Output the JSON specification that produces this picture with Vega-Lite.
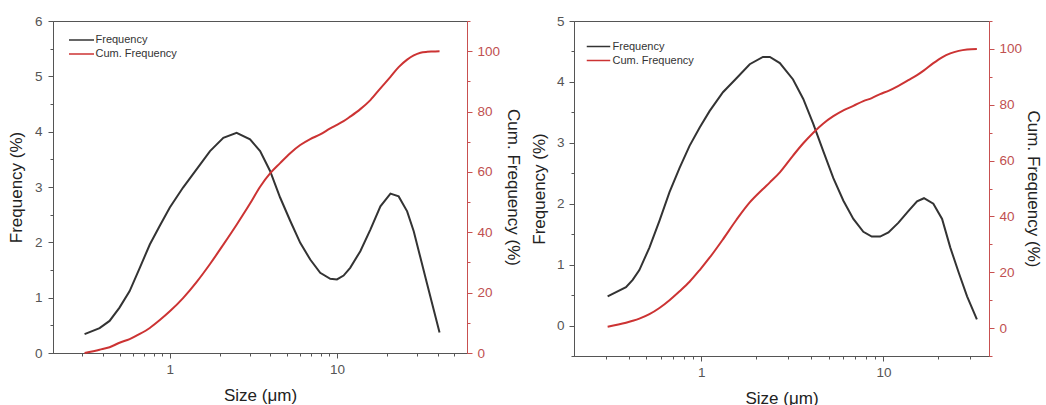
{
  "$schema": "https://vega.github.io/schema/vega-lite/v6.json",
  "padding": {"left": 6, "top": 13, "right": 0, "bottom": 0},
  "config": {
    "font": "Liberation Sans",
    "view": {"stroke": "#555555", "strokeWidth": 1},
    "axis": {"labelFont": "Liberation Sans", "titleFont": "Liberation Sans", "labelFontSize": 13.5, "titleFontSize": 17, "titleFontWeight": "normal", "labelColor": "#555555", "titleColor": "#222222", "domainColor": "#555555", "tickColor": "#555555", "grid": false, "labelOverlap": false},
    "legend": {"orient": "none", "title": null, "symbolStrokeWidth": 1.5, "labelFontSize": 11, "labelFont": "Liberation Sans", "labelColor": "#333333", "padding": 0, "symbolSize": 100}
  },
  "datasets": {
    "left": [
      {"size": 0.309, "freq": 0.34, "cum": 0.0},
      {"size": 0.38, "freq": 0.45, "cum": 1.1},
      {"size": 0.436, "freq": 0.58, "cum": 1.9},
      {"size": 0.5, "freq": 0.82, "cum": 3.4},
      {"size": 0.575, "freq": 1.12, "cum": 4.6},
      {"size": 0.661, "freq": 1.54, "cum": 6.3},
      {"size": 0.759, "freq": 1.96, "cum": 8.3},
      {"size": 0.871, "freq": 2.3, "cum": 10.9},
      {"size": 1.0, "freq": 2.63, "cum": 13.8},
      {"size": 1.2, "freq": 2.99, "cum": 18.2},
      {"size": 1.445, "freq": 3.32, "cum": 23.5},
      {"size": 1.74, "freq": 3.65, "cum": 29.5},
      {"size": 2.09, "freq": 3.89, "cum": 35.9},
      {"size": 2.51, "freq": 3.98, "cum": 42.5},
      {"size": 3.02, "freq": 3.86, "cum": 49.5},
      {"size": 3.47, "freq": 3.65, "cum": 55.1},
      {"size": 3.98, "freq": 3.29, "cum": 59.5},
      {"size": 4.57, "freq": 2.81, "cum": 62.9},
      {"size": 5.25, "freq": 2.39, "cum": 66.2},
      {"size": 6.03, "freq": 1.99, "cum": 68.9},
      {"size": 6.92, "freq": 1.69, "cum": 70.9},
      {"size": 7.94, "freq": 1.45, "cum": 72.4},
      {"size": 9.12, "freq": 1.34, "cum": 74.4},
      {"size": 10.0, "freq": 1.33, "cum": 75.6},
      {"size": 10.96, "freq": 1.4, "cum": 76.8},
      {"size": 12.0, "freq": 1.54, "cum": 78.3},
      {"size": 13.8, "freq": 1.84, "cum": 80.8},
      {"size": 15.85, "freq": 2.23, "cum": 83.8},
      {"size": 18.2, "freq": 2.65, "cum": 87.7},
      {"size": 20.9, "freq": 2.88, "cum": 91.5},
      {"size": 23.4, "freq": 2.83, "cum": 94.7},
      {"size": 26.3, "freq": 2.56, "cum": 97.2},
      {"size": 28.8, "freq": 2.2, "cum": 98.6},
      {"size": 31.6, "freq": 1.72, "cum": 99.5},
      {"size": 34.7, "freq": 1.24, "cum": 99.8},
      {"size": 37.2, "freq": 0.88, "cum": 99.9},
      {"size": 41.1, "freq": 0.37, "cum": 100}
    ],
    "right": [
      {"size": 0.306, "freq": 0.48, "cum": 0.5},
      {"size": 0.386, "freq": 0.63, "cum": 1.9},
      {"size": 0.42, "freq": 0.75, "cum": 2.6},
      {"size": 0.457, "freq": 0.91, "cum": 3.4},
      {"size": 0.519, "freq": 1.28, "cum": 5.0},
      {"size": 0.589, "freq": 1.72, "cum": 7.2},
      {"size": 0.669, "freq": 2.19, "cum": 10.0},
      {"size": 0.76, "freq": 2.59, "cum": 13.2},
      {"size": 0.862, "freq": 2.95, "cum": 16.6},
      {"size": 0.98, "freq": 3.25, "cum": 20.8},
      {"size": 1.11, "freq": 3.52, "cum": 25.2},
      {"size": 1.315, "freq": 3.83, "cum": 31.8},
      {"size": 1.56, "freq": 4.06, "cum": 38.8},
      {"size": 1.845, "freq": 4.29, "cum": 45.0},
      {"size": 2.18, "freq": 4.41, "cum": 49.8},
      {"size": 2.38, "freq": 4.41, "cum": 52.2},
      {"size": 2.7, "freq": 4.31, "cum": 55.8},
      {"size": 3.19, "freq": 4.04, "cum": 61.8},
      {"size": 3.63, "freq": 3.72, "cum": 66.2},
      {"size": 4.12, "freq": 3.31, "cum": 70.0},
      {"size": 4.68, "freq": 2.86, "cum": 73.3},
      {"size": 5.31, "freq": 2.42, "cum": 75.9},
      {"size": 6.03, "freq": 2.05, "cum": 78.0},
      {"size": 6.84, "freq": 1.75, "cum": 79.6},
      {"size": 7.76, "freq": 1.54, "cum": 81.3},
      {"size": 8.63, "freq": 1.46, "cum": 82.4},
      {"size": 9.59, "freq": 1.46, "cum": 83.8},
      {"size": 10.66, "freq": 1.53, "cum": 85.0},
      {"size": 12.1, "freq": 1.69, "cum": 86.8},
      {"size": 13.7, "freq": 1.88, "cum": 88.8},
      {"size": 15.3, "freq": 2.04, "cum": 90.6},
      {"size": 16.7, "freq": 2.09, "cum": 92.3},
      {"size": 18.8, "freq": 2.0, "cum": 94.9},
      {"size": 21.0, "freq": 1.75, "cum": 97.0},
      {"size": 23.3, "freq": 1.28, "cum": 98.4},
      {"size": 25.9, "freq": 0.87, "cum": 99.3},
      {"size": 28.8, "freq": 0.48, "cum": 99.8},
      {"size": 32.6, "freq": 0.1, "cum": 100}
    ]
  },
  "spacing": 6,
  "resolve": {"scale": {"color": "independent"}, "legend": {"color": "independent"}},
  "hconcat": [
    {
      "width": 414,
      "height": 332,
      "data": {"name": "left"},
      "layer": [
        {
          "mark": {"type": "line", "strokeWidth": 2, "interpolate": "linear"},
          "encoding": {
            "x": {"field": "size", "type": "quantitative", "scale": {"type": "log", "domain": [0.2, 60], "nice": false},
                  "axis": {"orient": "bottom", "values": [0.3, 0.4, 0.5, 0.6, 0.7, 0.8, 0.9, 1, 2, 3, 4, 5, 6, 7, 8, 9, 10, 20, 30, 40, 50],
                           "labelExpr": "datum.value == 1 || datum.value == 10 ? '' + datum.value : ''",
                           "tickSize": {"condition": {"test": "datum.value == 1 || datum.value == 10", "value": 5}, "value": 3},
                           "labelPadding": 4, "title": "Size (μm)", "titlePadding": 12}},
            "y": {"field": "freq", "type": "quantitative", "scale": {"domain": [0, 6], "nice": false, "zero": false},
                  "axis": {"orient": "left", "values": [0, 0.5, 1, 1.5, 2, 2.5, 3, 3.5, 4, 4.5, 5, 5.5, 6],
                           "labelExpr": "datum.value % 1 == 0 ? '' + datum.value : ''",
                           "tickSize": {"condition": {"test": "datum.value % 1 == 0", "value": 5}, "value": 3},
                           "labelPadding": 6, "title": "Frequency (%)", "titlePadding": 9}},
            "color": {"datum": "Frequency", "type": "nominal",
                      "scale": {"domain": ["Frequency", "Cum. Frequency"], "range": ["#333333", "#cc3333"]},
                      "legend": {"legendX": 22.5, "legendY": 13, "symbolType": "M-2.5,0H2.5", "labelOffset": 8, "rowPadding": 3}}
          }
        },
        {
          "mark": {"type": "line", "strokeWidth": 2, "interpolate": "monotone"},
          "encoding": {
            "x": {"field": "size", "type": "quantitative"},
            "y": {"field": "cum", "type": "quantitative", "scale": {"domain": [0, 110], "nice": false, "zero": false},
                  "axis": {"orient": "right", "values": [0, 10, 20, 30, 40, 50, 60, 70, 80, 90, 100, 110],
                           "labelExpr": "datum.value % 20 == 0 && datum.value <= 100 ? '' + datum.value : ''",
                           "tickSize": {"condition": {"test": "datum.value % 20 == 0 && datum.value <= 100", "value": 5}, "value": 3},
                           "labelPadding": 5, "title": "Cum. Frequency (%)", "titlePadding": 4, "domainColor": "#c85050", "tickColor": "#c85050", "labelColor": "#c05050"}},
            "color": {"datum": "Cum. Frequency", "type": "nominal"}
          }
        }
      ],
      "resolve": {"scale": {"y": "independent"}}
    },
    {
      "width": 415,
      "height": 335,
      "data": {"name": "right"},
      "layer": [
        {
          "mark": {"type": "line", "strokeWidth": 2, "interpolate": "linear"},
          "encoding": {
            "x": {"field": "size", "type": "quantitative", "scale": {"type": "log", "domain": [0.2, 38], "nice": false},
                  "axis": {"orient": "bottom", "values": [0.3, 0.4, 0.5, 0.6, 0.7, 0.8, 0.9, 1, 2, 3, 4, 5, 6, 7, 8, 9, 10, 20, 30],
                           "labelExpr": "datum.value == 1 || datum.value == 10 ? '' + datum.value : ''",
                           "tickSize": {"condition": {"test": "datum.value == 1 || datum.value == 10", "value": 5}, "value": 3},
                           "labelPadding": 4, "title": "Size (μm)", "titlePadding": 12}},
            "y": {"field": "freq", "type": "quantitative", "scale": {"domain": [-0.5, 5], "nice": false, "zero": false},
                  "axis": {"orient": "left", "values": [-0.5, 0, 0.5, 1, 1.5, 2, 2.5, 3, 3.5, 4, 4.5, 5],
                           "labelExpr": "datum.value % 1 == 0 ? '' + datum.value : ''",
                           "tickSize": {"condition": {"test": "datum.value % 1 == 0", "value": 5}, "value": 3},
                           "labelPadding": 5, "title": "Frequency (%)", "titlePadding": 8}},
            "color": {"datum": "Frequency", "type": "nominal",
                      "scale": {"domain": ["Frequency", "Cum. Frequency"], "range": ["#333333", "#cc3333"]},
                      "legend": {"legendX": 18.5, "legendY": 19.5, "symbolType": "M-2.35,0H2.35", "labelOffset": 8, "rowPadding": 3}}
          }
        },
        {
          "mark": {"type": "line", "strokeWidth": 2, "interpolate": "monotone"},
          "encoding": {
            "x": {"field": "size", "type": "quantitative"},
            "y": {"field": "cum", "type": "quantitative", "scale": {"domain": [-10, 110], "nice": false, "zero": false},
                  "axis": {"orient": "right", "values": [-10, 0, 10, 20, 30, 40, 50, 60, 70, 80, 90, 100, 110],
                           "labelExpr": "datum.value % 20 == 0 && datum.value <= 100 ? '' + datum.value : ''",
                           "tickSize": {"condition": {"test": "datum.value % 20 == 0 && datum.value <= 100", "value": 5}, "value": 3},
                           "labelPadding": 5, "title": "Cum. Frequency (%)", "titlePadding": 2, "domainColor": "#c85050", "tickColor": "#c85050", "labelColor": "#c05050"}},
            "color": {"datum": "Cum. Frequency", "type": "nominal"}
          }
        }
      ],
      "resolve": {"scale": {"y": "independent"}}
    }
  ]
}
